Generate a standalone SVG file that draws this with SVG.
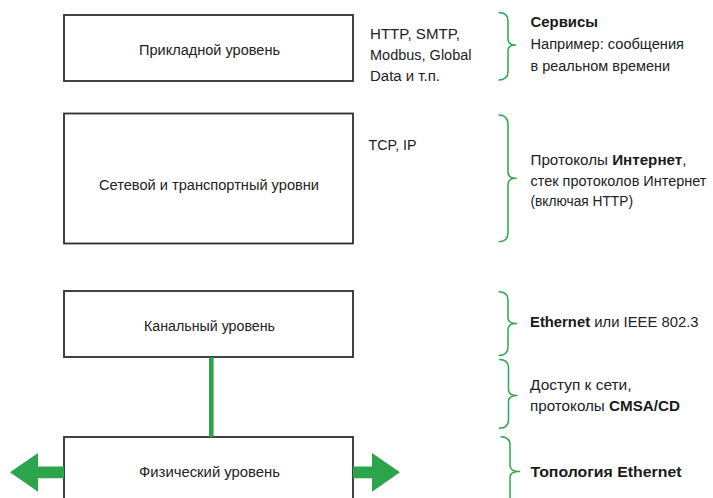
<svg xmlns="http://www.w3.org/2000/svg" width="713" height="498" viewBox="0 0 713 498">
  <style>
    .box { fill: #ffffff; stroke: #2e2e2e; stroke-width: 1.8; }
    .lbl { font-family: "Liberation Sans", Arial, sans-serif; font-size: 15.5px; fill: #222222; }
    .mid { text-anchor: middle; }
    .b { font-weight: bold; fill: #1a1a1a; }
    .brace { fill: none; stroke: #2fa84f; stroke-width: 1.5; stroke-linejoin: round; }
    .green { fill: #2ba44c; }
  </style>

  <rect width="713" height="498" fill="#ffffff"/>

  <!-- layer boxes -->
  <g id="layer-application">
    <rect class="box" x="64" y="15" width="289" height="66"/>
    <text class="lbl mid" x="209.5" y="54.5" textLength="141" lengthAdjust="spacingAndGlyphs">Прикладной уровень</text>
  </g>

  <g id="layer-network-transport">
    <rect class="box" x="64" y="113.5" width="289" height="130"/>
    <text class="lbl mid" x="209" y="190" textLength="220" lengthAdjust="spacingAndGlyphs">Сетевой и транспортный уровни</text>
  </g>

  <g id="layer-datalink">
    <rect class="box" x="64" y="291" width="289" height="66"/>
    <text class="lbl mid" x="209.5" y="330.5" textLength="131" lengthAdjust="spacingAndGlyphs">Канальный уровень</text>
  </g>

  <g id="layer-physical">
    <rect class="box" x="64" y="437" width="289" height="80"/>
    <text class="lbl mid" x="209.5" y="476.5" textLength="141" lengthAdjust="spacingAndGlyphs">Физический уровень</text>
  </g>

  <!-- connectors: link between data link and physical, medium arrows -->
  <g id="connectors">
    <rect class="green" x="209" y="357.5" width="4.6" height="79.5"/>
    <polygon class="green" points="10,472.3 38,453 38,466.5 64,466.5 64,478.2 38,478.2 38,491.7"/>
    <polygon class="green" points="353,466.5 372,466.5 372,453 400,472.3 372,491.7 372,478.2 353,478.2"/>
  </g>

  <!-- protocol examples -->
  <g id="protocols-application">
    <text class="lbl" x="370" y="38.5" textLength="90" lengthAdjust="spacingAndGlyphs">HTTP, SMTP,</text>
    <text class="lbl" x="370" y="59.5" textLength="101.5" lengthAdjust="spacingAndGlyphs">Modbus, Global</text>
    <text class="lbl" x="370" y="80.5" textLength="70" lengthAdjust="spacingAndGlyphs">Data и т.п.</text>
  </g>

  <g id="protocols-network">
    <text class="lbl" x="368.5" y="149.5" textLength="48" lengthAdjust="spacingAndGlyphs">TCP, IP</text>
  </g>

  <!-- braces with descriptions -->
  <g id="note-services">
    <path class="brace" d="M498.5,12.5 Q508,12.5 508,21 L508,39 Q508,45 515.5,45 Q508,45 508,51 L508,71.5 Q508,80 498.5,80"/>
    <text class="lbl b" x="530.5" y="26.5" textLength="67.5" lengthAdjust="spacingAndGlyphs">Сервисы</text>
    <text class="lbl" x="530.5" y="49" textLength="153.5" lengthAdjust="spacingAndGlyphs">Например: сообщения</text>
    <text class="lbl" x="530.5" y="71" textLength="139.5" lengthAdjust="spacingAndGlyphs">в реальном времени</text>
  </g>

  <g id="note-internet">
    <path class="brace" d="M498.5,115 Q508,115 508,124 L508,172 Q508,178.3 516,178.3 Q508,178.3 508,184.5 L508,233 Q508,241.7 498.5,241.7"/>
    <text class="lbl" x="530.5" y="164.5" textLength="156" lengthAdjust="spacingAndGlyphs">Протоколы <tspan class="b">Интернет</tspan>,</text>
    <text class="lbl" x="530.5" y="185.5" style="font-size:14.5px" textLength="176" lengthAdjust="spacingAndGlyphs">стек протоколов Интернет</text>
    <text class="lbl" x="530.5" y="206" textLength="102.5" lengthAdjust="spacingAndGlyphs">(включая HTTP)</text>
  </g>

  <g id="note-ethernet">
    <path class="brace" d="M498.5,291.7 Q508,291.7 508,300 L508,317.5 Q508,323.5 516.5,323.5 Q508,323.5 508,329.5 L508,347 Q508,355.5 498.5,355.5"/>
    <text class="lbl" x="530" y="327" textLength="168.5" lengthAdjust="spacingAndGlyphs"><tspan class="b">Ethernet</tspan> или IEEE 802.3</text>
  </g>

  <g id="note-access">
    <path class="brace" d="M499,359.5 Q508.5,359.5 508.5,368 L508.5,389.5 Q508.5,395.5 517,395.5 Q508.5,395.5 508.5,401.5 L508.5,419.5 Q508.5,428.3 499,428.3"/>
    <text class="lbl" x="530" y="390" textLength="101.5" lengthAdjust="spacingAndGlyphs">Доступ к сети,</text>
    <text class="lbl" x="530" y="411" textLength="150" lengthAdjust="spacingAndGlyphs">протоколы <tspan class="b">CMSA/CD</tspan></text>
  </g>

  <g id="note-topology">
    <path class="brace" d="M500.5,436.7 Q510,436.7 510,445 L510,465.5 Q510,471.5 519.5,471.5 Q510,471.5 510,477.5 L510,506"/>
    <text class="lbl b" x="530.5" y="477" textLength="151" lengthAdjust="spacingAndGlyphs">Топология Ethernet</text>
  </g>
</svg>
